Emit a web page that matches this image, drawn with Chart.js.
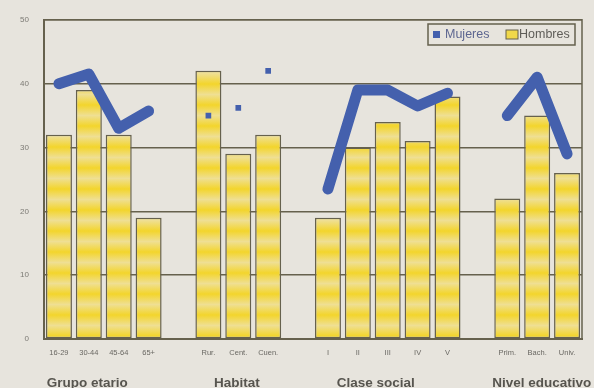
<!DOCTYPE html>
<html>
<head>
<meta charset="utf-8">
<script src="https://cdn.jsdelivr.net/npm/chart.js@4/dist/chart.umd.min.js"></script>
<style>
  html, body { margin: 0; padding: 0; background: #e7e4dd; }
  #wrap { width: 594px; height: 388px; }
</style>
</head>
<body>
<div id="wrap"><canvas id="c" width="594" height="388"></canvas></div>
<script>
// Categories; empty strings are the spacer slots between groups
const categories = ['16-29', '30-44', '45-64', '65+', '',
  'Rur.', 'Cent.', 'Cuen.', '',
  'I', 'II', 'III', 'IV', 'V', '',
  'Prim.', 'Bach.', 'Univ.'];

const hombres = [32, 39, 32, 19, null,
  42, 29, 32, null,
  19, 30, 34, 31, 38, null,
  22, 35, 26];

const mujeres = [40, 41.5, 33, 35.7, null,
  35, 36.2, 42, null,
  23.5, 39, 39, 36.5, 38.5, null,
  35, 41, 29];

// Habitat values are shown as isolated markers
const markerOnly = [5, 6, 7];

const groupNames = ['Grupo etario', 'Habitat', 'Clase social', 'Nivel educativo'];
const yTicks = [0, 10, 20, 30, 40, 50];

const INK = '#66614d';
const BLUE = '#4460ad';
const BG = '#e7e4dd';

// Horizontal yellow stripe fill for the bars
function stripePattern() {
  const p = document.createElement('canvas');
  p.width = 8; p.height = 21;
  const g = p.getContext('2d');
  const grad = g.createLinearGradient(0, 0, 0, 21);
  grad.addColorStop(0, '#f3d52c');
  grad.addColorStop(0.5, '#efdf93');
  grad.addColorStop(1, '#f3d52c');
  g.fillStyle = grad;
  g.fillRect(0, 0, 8, 21);
  return g.createPattern(p, 'repeat');
}

const ctx = document.getElementById('c').getContext('2d');

const framePlugin = {
  id: 'frame',
  beforeDraw(chart) {
    const c = chart.ctx;
    c.save();
    c.fillStyle = BG;
    c.fillRect(0, 0, chart.width, chart.height);
    c.restore();
  },
  afterDatasetsDraw(chart) {
    const c = chart.ctx, a = chart.chartArea;
    c.save();
    c.strokeStyle = INK;
    c.lineWidth = 1.5;
    c.beginPath();
    c.moveTo(a.left, a.top);
    c.lineTo(a.right, a.top);
    c.lineTo(a.right, a.bottom);
    c.stroke();
    c.restore();
  },
  afterDraw(chart, args, opts) {
    const c = chart.ctx;
    const x = chart.scales.x;
    c.save();
    // Group captions under the category labels
    c.fillStyle = '#57554f';
    c.font = 'bold 13.5px "Liberation Sans", Arial, sans-serif';
    c.textAlign = 'center';
    c.textBaseline = 'middle';
    opts.groups.forEach((g, i) => {
      c.fillText(groupNames[i], x.getPixelForValue(g), 383);
    });

    // Legend box
    const lx = 428, ly = 24, lw = 147, lh = 21;
    c.strokeStyle = INK;
    c.lineWidth = 1.5;
    c.strokeRect(lx, ly, lw, lh);
    c.fillStyle = BLUE;
    c.fillRect(lx + 5, ly + 7, 7, 7);
    c.font = '12.5px "Liberation Sans", Arial, sans-serif';
    c.textAlign = 'left';
    c.fillStyle = '#5d6690';
    c.fillText(chart.data.datasets[0].label, lx + 17, ly + 11);
    c.fillStyle = '#f0d84a';
    c.fillRect(lx + 78, ly + 6, 12, 9);
    c.strokeStyle = INK;
    c.lineWidth = 1;
    c.strokeRect(lx + 78, ly + 6, 12, 9);
    c.fillStyle = '#5f5d58';
    c.fillText(chart.data.datasets[1].label, lx + 91, ly + 11);
    c.restore();
  }
};

new Chart(ctx, {
  data: {
    labels: categories,
    datasets: [
      {
        type: 'line',
        label: 'Mujeres',
        data: mujeres,
        order: 0,
        borderColor: BLUE,
        backgroundColor: BLUE,
        borderWidth: 11,
        borderCapStyle: 'round',
        borderJoinStyle: 'round',
        tension: 0,
        spanGaps: false,
        segment: {
          borderColor: s => markerOnly.includes(s.p0DataIndex) ? 'rgba(0,0,0,0)' : BLUE
        },
        pointStyle: 'rect',
        pointRadius: c => markerOnly.includes(c.dataIndex) ? 4 : 0,
        pointBorderWidth: 0,
        pointHoverRadius: 0
      },
      {
        type: 'bar',
        label: 'Hombres',
        data: hombres,
        order: 1,
        backgroundColor: stripePattern(),
        borderColor: INK,
        borderWidth: 1.5,
        borderSkipped: false,
        barPercentage: 0.87,
        categoryPercentage: 1
      }
    ]
  },
  options: {
    responsive: false,
    animation: false,
    layout: { padding: { left: 0, right: 12, top: 16, bottom: 0 } },
    plugins: {
      legend: { display: false },
      tooltip: { enabled: false },
      frame: { groups: [0.95, 5.95, 10.6, 16.15] }
    },
    scales: {
      x: {
        type: 'category',
        offset: true,
        grid: { display: false, drawTicks: false },
        border: { display: true, color: INK, width: 2 },
        ticks: {
          color: '#6a6863',
          font: { size: 7.5, family: '"Liberation Sans", Arial, sans-serif' },
          padding: 9,
          maxRotation: 0,
          autoSkip: false
        },
        afterFit(s) { s.height = 49; }
      },
      y: {
        min: 0,
        max: 50,
        afterBuildTicks(s) { s.ticks = yTicks.map(v => ({ value: v })); },
        grid: { color: INK, lineWidth: 1.4, drawTicks: false },
        border: { display: true, color: INK, width: 2 },
        ticks: {
          color: '#7c7a74',
          font: { size: 8, family: '"Liberation Sans", Arial, sans-serif' },
          padding: 15
        },
        afterFit(s) { s.width = 44; }
      }
    }
  },
  plugins: [framePlugin]
});
</script>
</body>
</html>
